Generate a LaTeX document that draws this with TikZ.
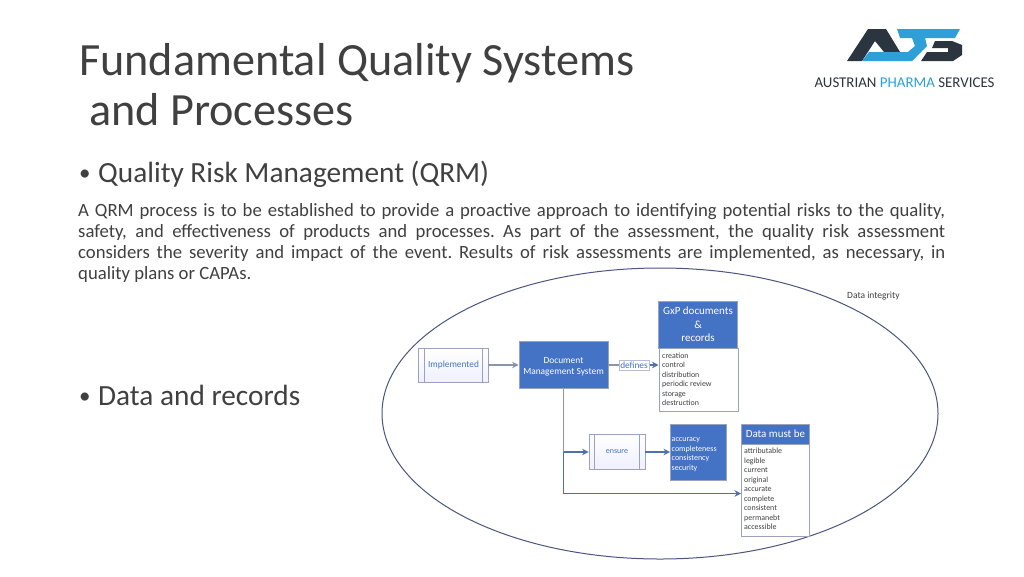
\documentclass[tikz,border=0pt]{standalone}
\usepackage{fontspec}
\setmainfont{Carlito}
\usetikzlibrary{arrows.meta,shapes.geometric}
\definecolor{boxblue}{HTML}{4472C4}
\definecolor{edgegray}{HTML}{9AA2BE}
\definecolor{linkgray}{HTML}{8C93AB}
\definecolor{linkblue}{HTML}{4F6FAE}
\definecolor{ringblue}{HTML}{4A5580}
\definecolor{inktext}{HTML}{404040}
\definecolor{logodark}{HTML}{2B3540}
\definecolor{logoblue}{HTML}{2F9FD8}
\tikzset{
 headbox/.style={draw=edgegray,line width=.9pt,fill=boxblue,text=white,align=center,inner sep=0pt},
 listbox/.style={draw=edgegray,line width=.9pt,fill=white,inner sep=0pt},
 procbox/.style={draw=edgegray,line width=.9pt,inner sep=0pt,top color=white,bottom color=blue!6},
 link/.style={draw=linkblue,line width=1.2pt,-{Stealth[length=6.5pt,width=6.5pt]}},
 listtext/.style={text=inktext,font=\fontsize{7.9}{9.5}\selectfont,align=left,anchor=north west,inner sep=0pt},
 slidetitle/.style={text=inktext,font=\fontsize{46.2}{50}\selectfont,anchor=base west,inner sep=0pt},
 bullettext/.style={text=inktext,font=\fontsize{29.3}{34}\selectfont,anchor=base west,inner sep=0pt},
 bulletmark/.style={text=inktext,font=\fontsize{23}{26}\selectfont,anchor=base west,inner sep=0pt}
}
\begin{document}
\begin{tikzpicture}[x=1pt,y=-1pt]
\useasboundingbox (0,0) rectangle (1024,576);
\fill[white] (0,0) rectangle (1024,576);
\node[slidetitle] (t1) at (79,75) {Fundamental Quality Systems};
\node[slidetitle] (t2) at (89,125) {and Processes};
\node[bulletmark] (b1) at (79,180) {•};
\node[bullettext] (q1) at (98,182) {Quality Risk Management (QRM)};
\node[text=inktext,font=\fontsize{18.7}{21}\selectfont,anchor=north west,inner sep=0pt,text width=867pt,align=justify] (para) at (78,203) {\frenchspacing A QRM process is to be established to provide a proactive approach to identifying potential risks to the quality,\linebreak safety, and effectiveness of products and processes. As part of the assessment, the quality risk assessment\linebreak considers the severity and impact of the event. Results of risk assessments are implemented, as necessary, in\linebreak quality plans or CAPAs.};
\node[bulletmark] (b2) at (79,403) {•};
\node[bullettext] (q2) at (98,405) {Data and records};
% ring
\node[draw=ringblue,line width=1pt,ellipse,minimum width=556pt,minimum height=291pt,inner sep=0pt] (ring) at (660,413.5) {};
\node[text=inktext,font=\fontsize{9.5}{11}\selectfont,anchor=base west,inner sep=0pt] (di) at (847,298) {Data integrity};
% process boxes
\node[procbox,minimum width=70pt,minimum height=34pt] (impl) at (453,365) {};
\draw[edgegray,line width=.8pt] ([xshift=7pt]impl.north west) -- ([xshift=7pt]impl.south west) ([xshift=-6pt]impl.north east) -- ([xshift=-6pt]impl.south east);
\node[text=boxblue,font=\fontsize{9.3}{11}\selectfont,inner sep=0pt] (impllabel) at (453.5,365) {Implemented};
\node[headbox,minimum width=89pt,minimum height=47pt,font=\fontsize{9.4}{11.5}\selectfont] (dms) at (563.5,365) {\rule{0pt}{9.5pt}Document\\Management System};
\draw[link,draw=linkgray,line width=1.5pt] (impl) -- (dms);
% GxP
\node[headbox,minimum width=79pt,minimum height=47pt,font=\fontsize{11}{13.5}\selectfont] (gxp) at (698,324.5) {GxP documents\\\&\\records};
\node[listbox,anchor=north west,minimum width=79pt,minimum height=63pt] (gxplist) at (658.5,348) {};
\node[listtext] (gxptext) at (662,352.5) {creation\\control\\distribution\\periodic review\\storage\\destruction};
\node[draw=edgegray!70,fill=white,line width=.5pt,inner sep=1.5pt,text=boxblue,font=\fontsize{9.3}{11}\selectfont] (def) at (634,365) {defines};
\coordinate (gxpin) at (658.5,365);
\draw[link,draw=linkgray,-,line width=1.5pt] (dms.east) -- (def.west);
\draw[link] (def.east) -- (gxpin);
% ensure
\node[procbox,minimum width=56pt,minimum height=35pt] (ens) at (617,451.5) {};
\draw[edgegray,line width=.8pt] ([xshift=6pt]ens.north west) -- ([xshift=6pt]ens.south west) ([xshift=-6pt]ens.north east) -- ([xshift=-6pt]ens.south east);
\node[text=boxblue,font=\fontsize{8}{10}\selectfont,inner sep=0pt] (enslabel) at (ens.center) {ensure};
\node[headbox,anchor=north west,minimum width=56pt,minimum height=56pt] (acc) at (670,423.5) {};
\node[anchor=north west,inner sep=0pt,text=white,align=left,font=\fontsize{8}{9.6}\selectfont] (acctext) at (671.5,433.5) {\rule{0pt}{8pt}accuracy\\completeness\\consistency\\security};
\coordinate (split) at (563.5,452);
\draw[draw=linkgray,line width=1.2pt] (dms.south) -- (split);
\draw[link] (split) -- (ens.west |- split);
\draw[link] (ens.east |- split) -- (acc.west |- split);
% Data must be
\node[headbox,anchor=north west,minimum width=68pt,minimum height=20pt,font=\fontsize{11}{13}\selectfont] (must) at (741,423.5) {Data must be};
\node[listbox,anchor=north west,minimum width=68pt,minimum height=92.5pt] (mustlist) at (741,443.5) {};
\node[listtext] (musttext) at (744,448) {attributable\\legible\\current\\original\\accurate\\complete\\consistent\\permanebt\\accessible};
\coordinate (mustin) at (741,493.5);
\draw[link] (split) -- (split |- mustin) -- (mustin);
% logo
\fill[logodark] (847,61) -- (868,29) -- (886,29) -- (900,52) -- (884,52) -- (875,41) -- (862,61) -- cycle;
\fill[logoblue] (862,61) -- (869,52) -- (908,52) -- (915,46) -- (912,38) -- (900,38) -- (897,29) -- (960,29) -- (955,38) -- (925,38) -- (927,46) -- (918,55) -- (912,61) -- cycle;
\fill[logodark] (921,61) -- (927,52) -- (948,52) -- (948,48) -- (932,48) -- (935,41) -- (952,41) -- (962,45) -- (962,55) -- (953,61) -- cycle;
\node[font=\fontsize{14.9}{15}\selectfont,text=logodark,inner sep=0pt,anchor=base] (logotext) at (904.5,87) {AUSTRIAN \textcolor{logoblue}{PHARMA} SERVICES};
\end{tikzpicture}
\end{document}
